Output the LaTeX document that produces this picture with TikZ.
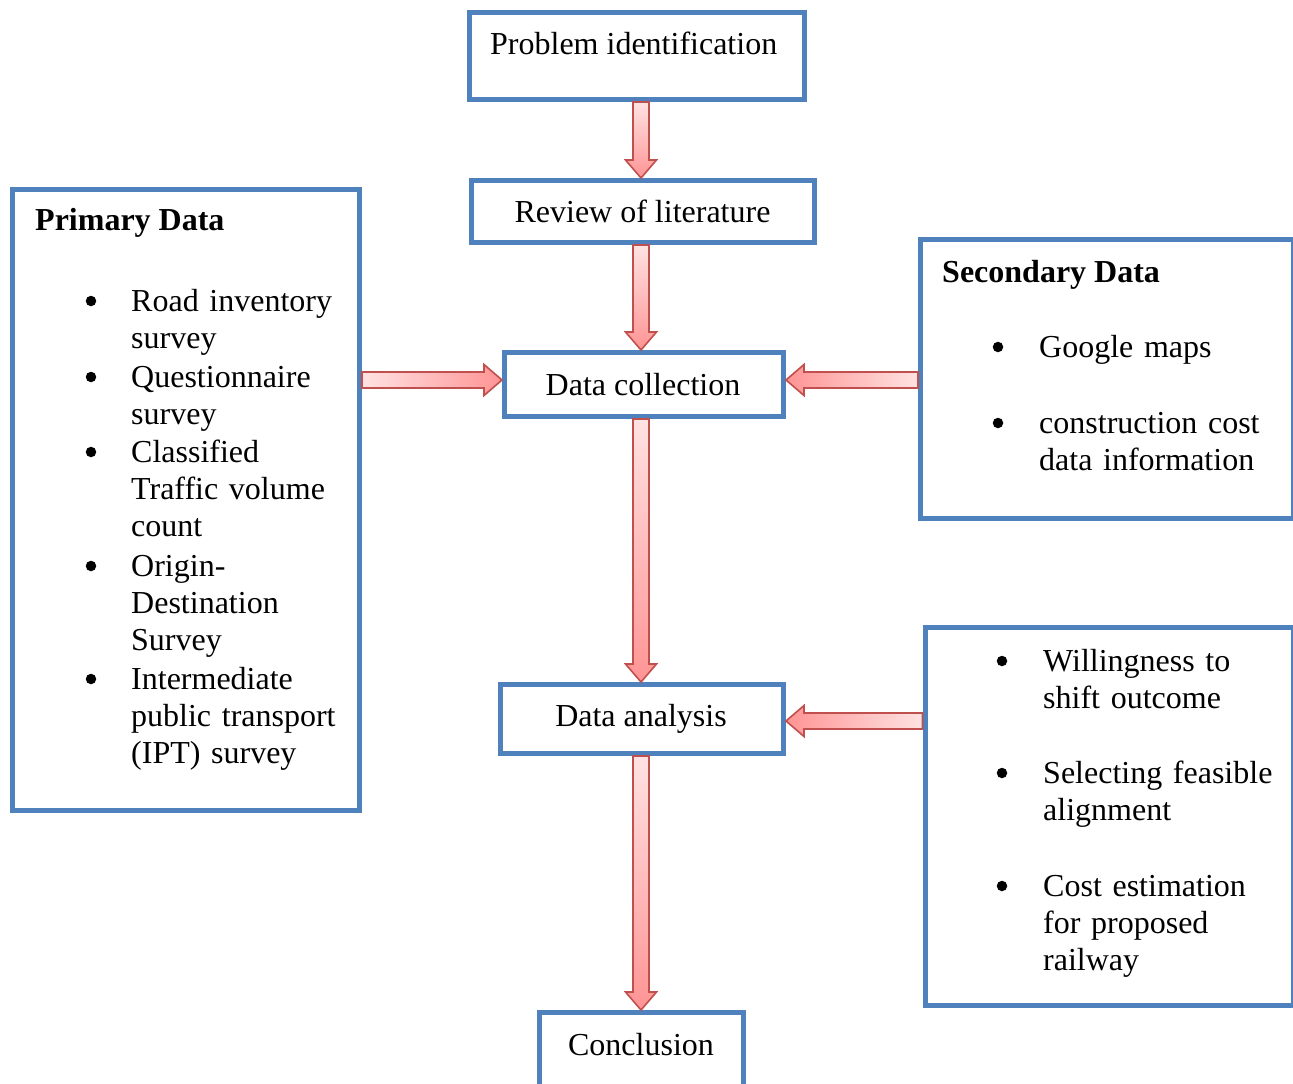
\documentclass[tikz,border=0pt]{standalone}
\usepackage{fontspec}
\setmainfont{Liberation Serif}
\usetikzlibrary{calc}
\definecolor{boxblue}{HTML}{4F81BD}
\definecolor{arrred}{HTML}{C0504D}
\definecolor{pinkL}{HTML}{FFE2E2}
\definecolor{pinkD}{HTML}{FF9494}
\newcommand\barpath[3]{%
  \path[#3] let \p1=(#1),\p2=(#2),\n1={atan2(\y2-\y1,\x2-\x1)},\n2={veclen(\x2-\x1,\y2-\y1)} in
    [shift={(\p1)},rotate=\n1] (0,-8) -- ({\n2-18},-8) -- ({\n2-18},-15.5) -- (\n2,0) -- ({\n2-18},15.5) -- ({\n2-18},8) -- (0,8) -- cycle;}
\newcommand\blockarrow[3]{%
  \barpath{#1}{#2}{fill=black!50,fill opacity=0.55,xshift=1pt,yshift=-2pt}%
  \barpath{#1}{#2}{draw=arrred,line width=1.6pt,line join=miter,#3}}
\begin{document}
\begin{tikzpicture}[x=1pt,y=-1pt,
  box/.style={draw=boxblue,line width=5pt,rectangle,inner sep=0pt,fill=white},
  txt/.style={font=\fontsize{32}{37}\selectfont,inner sep=0pt},
  head/.style={font=\fontsize{32}{37}\selectfont\bfseries,inner sep=0pt,anchor=base west},
  item/.style={font=\fontsize{32}{37}\selectfont,inner sep=0pt,anchor=base west,align=left,text width=260pt},
  bul/.style={circle,fill=black,inner sep=0pt,minimum size=10.5pt}]
\useasboundingbox (0,0) rectangle (1293,1084);
\fill[white] (0,0) rectangle (1293,1084);
% boxes
\node[box,minimum width=335pt,minimum height=87pt] (pi) at (637,56) {};
\node[box,minimum width=343pt,minimum height=62pt] (rev) at (643,211.5) {};
\node[box,minimum width=279pt,minimum height=64pt] (dc) at (644,384.5) {};
\node[box,minimum width=283pt,minimum height=69pt] (da) at (642,719) {};
\node[box,minimum width=204pt,minimum height=87pt] (con) at (641.5,1056) {};
\node[box,minimum width=347pt,minimum height=621pt] (prim) at (186,500) {};
\node[box,minimum width=373pt,minimum height=279pt] (sec) at (1107,379) {};
\node[box,minimum width=368.5pt,minimum height=377.5pt] (rb) at (1109.25,816.25) {};
% central texts
\node[txt,anchor=base] (tpi) at (633.7,54) {Problem identification};
\node[txt,anchor=base] (trev) at (642.5,222.5) {Review of literature};
\node[txt,anchor=base] (tdc) at (643,395) {Data collection};
\node[txt,anchor=base] (tda) at (641,726) {Data analysis};
\node[txt,anchor=base] (tcon) at (641,1055) {Conclusion};
% primary data
\node[head] (hp) at (35,230) {Primary Data};
\node[bul] (b1) at (91,301) {};
\node[item] (i1) at (131,311) {Road inventory\\survey};
\node[bul] (b2) at (91,377) {};
\node[item] (i2) at (131,387) {Questionnaire\\survey};
\node[bul] (b3) at (91,452) {};
\node[item] (i3) at (131,462) {Classified\\Traffic volume\\count};
\node[bul] (b4) at (91,566) {};
\node[item] (i4) at (131,576) {Origin-\\Destination\\Survey};
\node[bul] (b5) at (91,679) {};
\node[item] (i5) at (131,689) {Intermediate\\public transport\\(IPT) survey};
% secondary data
\node[head] (hs) at (942,282) {Secondary Data};
\node[bul] (s1) at (998,347) {};
\node[item] (j1) at (1039,357) {Google maps};
\node[bul] (s2) at (998,423) {};
\node[item] (j2) at (1039,433) {construction cost\\data information};
% right lower box
\node[bul] (r1) at (1002,661) {};
\node[item] (k1) at (1043,671) {Willingness to\\shift outcome};
\node[bul] (r2) at (1002,773) {};
\node[item] (k2) at (1043,783) {Selecting feasible\\alignment};
\node[bul] (r3) at (1002,886) {};
\node[item] (k3) at (1043,896) {Cost estimation\\for proposed\\railway};
% helper coordinates for arrow axes
\coordinate (axis) at (641,0);
\coordinate (ha) at (0,380);
\coordinate (hb) at (0,721);
% block arrows
\blockarrow{pi.south -| axis}{rev.north -| axis}{top color=pinkL,bottom color=pinkD}
\blockarrow{rev.south -| axis}{dc.north -| axis}{top color=pinkL,bottom color=pinkD}
\blockarrow{dc.south -| axis}{da.north -| axis}{top color=pinkL,bottom color=pinkD}
\blockarrow{da.south -| axis}{con.north -| axis}{top color=pinkL,bottom color=pinkD}
\blockarrow{prim.east |- ha}{dc.west |- ha}{left color=pinkL,right color=pinkD}
\blockarrow{sec.west |- ha}{dc.east |- ha}{left color=pinkD,right color=pinkL}
\blockarrow{rb.west |- hb}{da.east |- hb}{left color=pinkD,right color=pinkL}
\end{tikzpicture}
\end{document}
